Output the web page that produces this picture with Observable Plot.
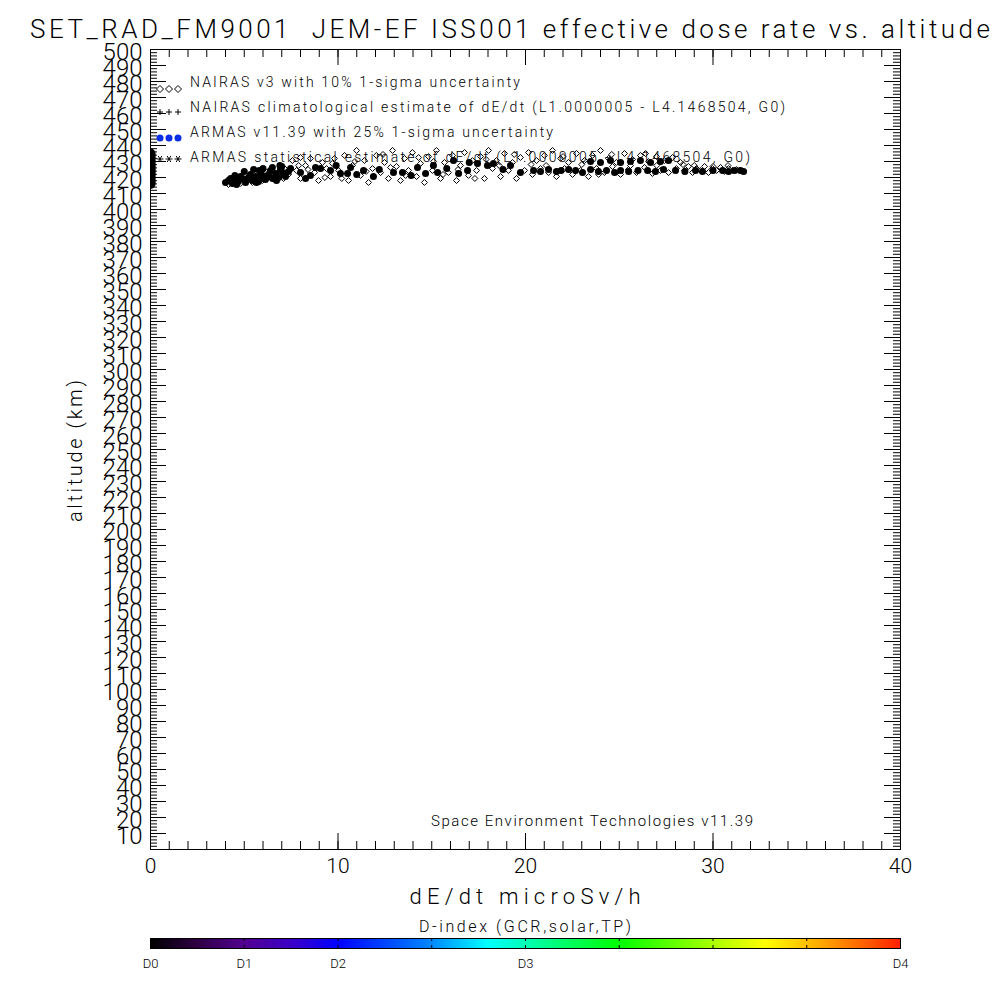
<!DOCTYPE html>
<html><head><meta charset="utf-8">
<script src="https://cdn.jsdelivr.net/npm/d3@7"></script>
<script src="https://cdn.jsdelivr.net/npm/@observablehq/plot@0.6"></script>
<style>
body{margin:0;background:#fff;}
#wrap{position:relative;width:1000px;height:1000px;background:#fff;overflow:hidden;}
#cb{position:absolute;left:0;top:905px;}
#main{position:absolute;left:0;top:0;}
</style></head><body><div id="wrap"><div id="main"></div><div id="cb"></div></div>
<script>
// ---------- data ----------
const titleText = "SET_RAD_FM9001  JEM-EF ISS001 effective dose rate vs. altitude";
const xLabel = "dE/dt microSv/h";
const yLabel = "altitude (km)";
const creditText = "Space Environment Technologies v11.39";
const colorbarTitle = "D-index (GCR,solar,TP)";
const legendLabels = [
  "NAIRAS v3 with 10% 1-sigma uncertainty",
  "NAIRAS climatological estimate of dE/dt (L1.0000005 - L4.1468504, G0)",
  "ARMAS v11.39 with 25% 1-sigma uncertainty",
  "ARMAS statistical estimate of dE/dt (L1.0000005 - L4.1468504, G0)"
];
const xTickValues = [0, 10, 20, 30, 40];
const yTickLabels = [10,20,30,40,50,60,70,80,90,100,110,120,130,140,150,160,170,180,190,200,
  210,220,230,240,250,260,270,280,290,300,310,320,330,340,350,360,370,380,390,400,
  410,420,430,440,450,460,470,480,490,500];
const dIndexTicks = [0, 1, 2, 4, 8];
const dIndexLabels = ["D0", "D1", "D2", "D3", "D4"];
const dIndexInnerTicks = [1, 2, 3, 4, 5, 6, 7];
const dIndexColors = [
  [0.00, "#000000"], [0.06, "#2c0040"], [0.125, "#520090"], [0.19, "#3a00c8"],
  [0.25, "#0000ff"], [0.375, "#0088ff"], [0.45, "#00ffff"], [0.52, "#00ff98"],
  [0.625, "#00ff00"], [0.75, "#a8ff00"], [0.82, "#ffff00"], [0.875, "#ffc000"],
  [0.94, "#ff7000"], [1.00, "#ff2000"]
];

// NAIRAS v3 points: [dE/dt microSv/h, altitude km]
const nairasPoints = [
  [4.16,415.6],[4.80,416.3],[5.44,416.9],[5.97,418.1],[6.40,420.0],[6.93,420.6],[7.36,421.9],[5.12,419.4],[6.19,423.1],[7.15,425.6],
  [7.57,430.6],[7.79,424.4],[8.00,419.4],[8.27,427.5],[8.53,431.9],[8.75,423.1],[8.96,418.1],[9.17,429.4],[9.39,425.6],[9.60,420.6],[9.81,431.9],[10.03,424.4],[8.00,432.5],
  [10.35,433.8],[10.56,418.1],[10.77,427.5],[10.99,436.9],[11.20,421.3],[11.41,430.6],[11.63,416.9],[11.84,425.6],[12.05,433.8],[12.27,423.1],
  [12.48,429.4],[12.69,419.4],[12.91,436.9],[13.12,426.9],[13.33,418.1],[13.55,431.9],[13.76,424.4],[13.97,435.6],[14.19,420.6],[14.40,428.8],
  [14.61,416.9],[14.83,433.1],[15.04,424.4],[15.25,436.9],[15.47,419.4],[15.68,429.4],[15.89,423.1],[16.11,433.8],[16.32,418.1],[16.53,427.5],
  [16.75,435.6],[16.96,421.3],[17.17,430.6],[17.39,424.4],[17.60,433.1],[17.81,419.4],[18.03,436.9],[18.24,425.6],[18.45,430.6],[18.67,420.6],
  [18.88,435.0],[19.09,424.4],[19.31,429.4],[19.52,419.4],[19.73,432.5],
  [19.95,424.4],[20.16,435.6],[20.37,421.9],[20.59,430.6],[20.80,425.6],[21.01,433.8],[21.23,423.1],[21.44,436.9],[21.65,420.6],[21.87,431.9],
  [22.08,425.6],[22.29,429.4],[22.51,421.9],[22.72,435.0],[22.93,424.4],[23.15,430.6],[23.36,420.6],[23.57,433.8],[23.79,425.6],[24.00,436.9],
  [24.21,423.1],[24.43,431.9],[24.64,426.9],[24.85,429.4],[25.07,421.9],[25.28,435.0],[25.49,425.0],[25.71,431.3],[25.92,423.1],[26.13,433.8],
  [26.35,426.3],[26.56,430.0],[26.77,422.5],[26.99,433.1],[27.20,424.4],[27.41,430.6],[27.63,423.1],[27.84,432.5],[28.05,425.6],[28.27,429.4],
  [28.48,424.4],[28.69,426.9],[28.91,423.1],[29.12,425.6],[29.33,424.4],[29.55,426.9],[29.76,423.1],[29.97,425.6],[30.19,424.4],[30.40,426.3],
  [30.61,423.8],[30.83,425.6],[31.04,424.4],[31.25,425.0],
  [4.50,417.5],[5.80,417.5],[6.60,418.8],[7.10,419.4],[7.90,427.5],[8.40,425.0],[9.30,420.0],[9.70,428.8],[10.20,419.4],[10.90,430.0],
  [11.50,423.8],[12.40,434.4],[12.80,426.3],[13.60,421.3],[14.30,432.5],[15.10,430.0],[15.60,421.9],[16.40,425.0],[17.30,419.4],[17.90,431.3],
  [18.60,427.5],[19.40,434.4],[20.30,428.1],[21.10,427.5],[22.00,433.1],[23.00,428.1],[23.90,421.9],[24.60,434.4],[25.60,427.5],[26.40,435.0],
  [27.00,427.5],[28.40,428.1],[29.00,427.5],[30.00,426.9],[30.80,427.5],[31.40,424.4]
];

// ARMAS v11.39 points (all D0 -> black): [dE/dt microSv/h, altitude km]
const armasPoints = [
  [4.00,416.9],[4.16,418.1],[4.37,416.3],[4.53,418.8],[4.69,417.5],[4.91,419.4],[5.07,416.9],[5.23,420.0],[5.44,418.1],[5.60,420.6],
  [5.76,417.5],[5.97,421.3],[6.13,418.8],[6.29,421.9],[6.51,419.4],[6.67,422.5],[6.83,420.0],[7.04,423.1],[7.20,420.6],[7.36,423.8],
  [4.27,419.4],[4.80,420.6],[5.33,421.9],[5.87,423.1],[6.40,424.4],[6.93,425.0],[7.47,425.6],[4.59,415.6],[5.65,416.9],[6.72,418.1],
  [5.12,418.8],[6.19,420.0],[7.15,421.9],[5.87,419.4],
  [5.00,423.8],[5.50,425.0],[6.00,425.6],[6.50,426.3],[7.00,426.9],[5.80,424.4],[4.50,421.3],[6.90,427.5],
  [8.00,423.1],[8.27,419.4],[8.53,421.3],[9.07,425.6],[9.60,424.4],[10.13,422.5],[10.51,422.5],[10.67,426.3],[11.36,424.4],[11.89,420.6],
  [12.96,423.1],[13.44,423.1],[14.24,426.3],[14.67,422.5],[15.09,427.5],[15.31,423.1],[16.16,430.6],[16.43,422.5],[16.91,424.4],[17.44,428.8],
  [17.97,427.5],[18.29,428.8],[19.73,423.1],
  [8.80,426.3],[9.90,427.5],[11.00,421.9],[12.20,425.0],[13.90,421.3],[15.80,425.6],[17.00,429.4],[18.80,425.0],[19.20,427.5],
  [20.43,424.4],[20.80,423.8],[21.23,425.0],[21.65,423.8],[22.67,424.4],[23.04,423.1],[23.47,425.0],[23.89,423.8],[24.32,424.4],[24.75,423.1],
  [25.07,424.4],[26.51,424.4],[26.93,423.8],[27.36,425.0],[29.07,424.4],[29.44,423.8],[30.51,424.4],[30.83,423.8],[31.15,424.4],[31.47,424.4],[31.63,423.8],
  [21.90,424.4],[22.30,425.0],[25.50,423.8],[26.00,424.4],[28.00,424.4],[28.50,423.8],[30.00,424.4],
  [23.47,430.0],[24.00,429.4],[24.53,430.6],[25.07,429.4],[25.60,430.0],[26.13,430.6],[26.67,429.4],[27.20,430.0],[27.63,430.6]
];

// statistical estimate points at dE/dt = 0
const zeroAlt = [416,417,418,419,420,421,422,423,424,425,426,427,428,429,430,431,432,433,434,435];

// ---------- drawing ----------
const FONT = "Roboto, 'Liberation Sans', 'DejaVu Sans', sans-serif";
const xMinor = d3.range(0, 41, 1);
const xMajor = xTickValues;
const yMinor = d3.range(0, 501, 2);
const yMajor = d3.range(0, 501, 10);
const FW = 750, FH = 800; // frame size in px

const main = Plot.plot({
  width: 1000, height: 1000,
  marginLeft: 150, marginRight: 100, marginTop: 49, marginBottom: 151,
  x: {domain: [0, 40], axis: null},
  y: {domain: [0, 500], axis: null},
  style: {fontFamily: FONT, fontWeight: 300, background: "white", color: "black", overflow: "visible"},
  marks: [
    Plot.tickX(xMinor, {x: d => d, insetTop: FH - 8, stroke: "black"}),
    Plot.tickX(xMinor, {x: d => d, insetBottom: FH - 8, stroke: "black"}),
    Plot.tickX(xMajor, {x: d => d, insetTop: FH - 16, stroke: "black"}),
    Plot.tickX(xMajor, {x: d => d, insetBottom: FH - 16, stroke: "black"}),
    Plot.tickY(yMinor, {y: d => d, insetRight: FW - 7, stroke: "black"}),
    Plot.tickY(yMinor, {y: d => d, insetLeft: FW - 7, stroke: "black"}),
    Plot.tickY(yMajor, {y: d => d, insetRight: FW - 16, stroke: "black"}),
    Plot.tickY(yMajor, {y: d => d, insetLeft: FW - 16, stroke: "black"}),
    Plot.dot(nairasPoints, {x: d => d[0], y: d => d[1], symbol: "diamond2", r: 2.7, stroke: "black", strokeWidth: 1}),
    Plot.dot(armasPoints, {x: d => d[0], y: d => d[1], r: 3.5, fill: "black", stroke: "none"}),
    Plot.dot(zeroAlt, {x: () => 0, y: d => d, r: 5, fill: "black", stroke: "none", clip: true}),
    Plot.text(xTickValues, {x: d => d, text: d => String(d), frameAnchor: "bottom", dy: 23, fontSize: 21}),
    Plot.text(yTickLabels, {y: d => d, text: d => String(d), frameAnchor: "left", dx: -8, dy: 3, textAnchor: "end", fontSize: 24}),
    Plot.frame({stroke: "black"})
  ]
});
document.getElementById("main").appendChild(main);

function addText(sel, str, o) {
  const t = sel.append("text")
    .attr("x", o.x).attr("y", o.y)
    .attr("font-size", o.size)
    .attr("font-family", FONT).attr("font-weight", 300)
    .attr("fill", "black")
    .attr("text-anchor", o.anchor || "start")
    .text(str);
  if (o.len) t.attr("textLength", o.len).attr("lengthAdjust", "spacing");
  if (o.rotate) t.attr("transform", `rotate(${o.rotate},${o.x},${o.y})`);
  return t;
}

const svg = d3.select(main);
addText(svg, titleText, {x: 30, y: 38, size: 26, len: 960});
addText(svg, xLabel, {x: 525, y: 904, size: 22, len: 231, anchor: "middle"});
addText(svg, yLabel, {x: 82, y: 451, size: 20, len: 142, anchor: "middle", rotate: -90});
addText(svg, creditText, {x: 431, y: 826, size: 15, len: 322});

const legendBase = [87, 112, 137, 162];
const legendLens = [330, 595, 363, 560];
legendLabels.forEach((s, i) => addText(svg, s, {x: 190, y: legendBase[i], size: 14, len: legendLens[i]}));

const symX = [160, 169, 178];
const lg = svg.append("g");
symX.forEach(x => {
  lg.append("path").attr("d", "M0,-3.5L3.5,0L0,3.5L-3.5,0Z").attr("transform", `translate(${x},89)`)
    .attr("fill", "none").attr("stroke", "black");
  lg.append("path").attr("d", "M-3,0H3M0,-3V3").attr("transform", `translate(${x},112)`)
    .attr("fill", "none").attr("stroke", "black");
  lg.append("circle").attr("cx", x).attr("cy", 138).attr("r", 3.5).attr("fill", "#0a2ee8");
  lg.append("path").attr("d", "M-3.5,0H3.5M-1.8,-3L1.8,3M-1.8,3L1.8,-3").attr("transform", `translate(${x},159)`)
    .attr("fill", "none").attr("stroke", "black");
});

// ---------- colour bar ----------
const step = 8 / 750;
const slices = d3.range(0, 8, step);
const cb = Plot.plot({
  width: 1000, height: 90,
  marginLeft: 150, marginRight: 100, marginTop: 33, marginBottom: 47,
  x: {domain: [0, 8], axis: null},
  y: {domain: [0, 1], axis: null},
  color: {type: "linear", domain: dIndexColors.map(d => d[0] * 8), range: dIndexColors.map(d => d[1]), interpolate: "rgb"},
  style: {fontFamily: FONT, fontWeight: 300, background: "white", color: "black", overflow: "visible"},
  marks: [
    Plot.rectX(slices, {x1: d => d, x2: d => d + step * 1.5, fill: d => d + step / 2, shapeRendering: "crispEdges"}),
    Plot.tickX(dIndexInnerTicks, {x: d => d, insetBottom: 7, stroke: "black"}),
    Plot.tickX(dIndexInnerTicks, {x: d => d, insetTop: 7, stroke: "black"}),
    Plot.frame({stroke: "black"}),
    Plot.text(dIndexTicks, {x: d => d, text: (d, i) => dIndexLabels[i], frameAnchor: "bottom", dy: 19, fontSize: 13})
  ]
});
document.getElementById("cb").appendChild(cb);
addText(d3.select(cb), colorbarTitle, {x: 419, y: 27, size: 16, len: 212});
</script></body></html>
